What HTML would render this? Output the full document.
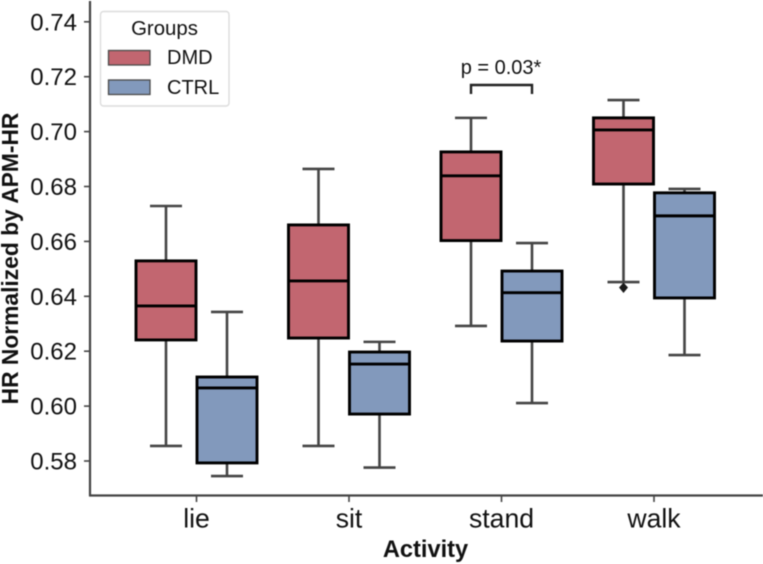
<!DOCTYPE html>
<html>
<head>
<meta charset="utf-8">
<style>
html,body{margin:0;padding:0;background:#fff;width:763px;height:564px;overflow:hidden}
svg{display:block;filter:blur(0.4px)}
text{font-family:"Liberation Sans",sans-serif;fill:#111}
</style>
</head>
<body>
<svg id="chart" xmlns="http://www.w3.org/2000/svg" width="763" height="564" viewBox="0 0 763 564">
  <g id="marks"></g>
  <g id="axes"></g>
  <text transform="translate(18 258.5) rotate(-90)" text-anchor="middle" font-size="22.8" font-weight="bold">HR Normalized by APM-HR</text>
  <text x="425.5" y="557" text-anchor="middle" font-size="23.6" font-weight="bold">Activity</text>
  <g>
    <path d="M471 94V85H532V94" fill="none" stroke="#222" stroke-width="2.4"/>
    <text x="501" y="74" text-anchor="middle" font-size="20">p = 0.03*</text>
  </g>
  <g>
    <rect x="100.5" y="11.5" width="128.5" height="94.5" rx="3" fill="#fff" stroke="#dcdcdc" stroke-width="1.4"/>
    <text x="164.5" y="35" text-anchor="middle" font-size="20.4">Groups</text>
    <rect x="108.5" y="50.5" width="41.5" height="14.5" fill="#c26670" stroke="#4a4a4a" stroke-width="1.3"/>
    <text x="167" y="64" font-size="20">DMD</text>
    <rect x="108.5" y="80" width="41.5" height="14.5" fill="#8299bc" stroke="#4a4a4a" stroke-width="1.3"/>
    <text x="167" y="94" font-size="20">CTRL</text>
  </g>
</svg>
<script>
const categories = ['lie', 'sit', 'stand', 'walk'];
const yTickLabels = ['0.58', '0.60', '0.62', '0.64', '0.66', '0.68', '0.70', '0.72', '0.74'];
const dmdLow = [0.5855, 0.5855, 0.6292, 0.6452];
const dmdQ1 = [0.6241, 0.6248, 0.6603, 0.6809];
const dmdMedian = [0.6365, 0.6456, 0.6839, 0.7006];
const dmdQ3 = [0.6529, 0.6660, 0.6926, 0.7050];
const dmdHigh = [0.6729, 0.6864, 0.7050, 0.7115];
const dmdFliers = [[], [], [], [0.6432]];
const ctrlLow = [0.5745, 0.5776, 0.6011, 0.6186];
const ctrlQ1 = [0.5793, 0.5971, 0.6237, 0.6394];
const ctrlMedian = [0.6066, 0.6153, 0.6413, 0.6693];
const ctrlQ3 = [0.6106, 0.6197, 0.6492, 0.6777];
const ctrlHigh = [0.6343, 0.6234, 0.6594, 0.6791];
const ctrlFliers = [[], [], [], []];

const NS = 'http://www.w3.org/2000/svg';
const yScale = v => 461 - (v - 0.58) * 2745;
const xScale = i => 196.5 + i * 152.5;
const marks = document.getElementById('marks');
const axes = document.getElementById('axes');

function make(parent, tag, attrs) {
  const el = document.createElementNS(NS, tag);
  for (const k in attrs) el.setAttribute(k, attrs[k]);
  parent.appendChild(el);
  return el;
}

function drawBox(i, offset, fill, low, q1, med, q3, high, fliers, prefix) {
  const g = make(marks, 'g', {});
  
  
  const cx = xScale(i) + offset;
  const half = 30;
  const capHalf = 16;
  const grey = '#444';
  make(g, 'line', {x1: cx, x2: cx, y1: yScale(high), y2: yScale(q3), stroke: grey, 'stroke-width': 2.6});
  make(g, 'line', {x1: cx, x2: cx, y1: yScale(q1), y2: yScale(low), stroke: grey, 'stroke-width': 2.6});
  make(g, 'line', {x1: cx - capHalf, x2: cx + capHalf, y1: yScale(high), y2: yScale(high), stroke: grey, 'stroke-width': 2.6});
  make(g, 'line', {x1: cx - capHalf, x2: cx + capHalf, y1: yScale(low), y2: yScale(low), stroke: grey, 'stroke-width': 2.6});
  make(g, 'rect', {x: cx - half, y: yScale(q3), width: half * 2, height: yScale(q1) - yScale(q3), fill: fill, stroke: '#000', 'stroke-width': 2.9});
  make(g, 'line', {x1: cx - half, x2: cx + half, y1: yScale(med), y2: yScale(med), stroke: '#000', 'stroke-width': 2.9});
  fliers.forEach(f => {
    const y = yScale(f);
    const pts = (cx - 4.5) + ',' + y + ' ' + cx + ',' + (y - 5) + ' ' + (cx + 4.5) + ',' + y + ' ' + cx + ',' + (y + 5.5);
    make(g, 'polygon', {points: pts, fill: '#1a1a1a'});
  });
}

categories.forEach((c, i) => {
  drawBox(i, -30.5, '#c26670', dmdLow[i], dmdQ1[i], dmdMedian[i], dmdQ3[i], dmdHigh[i], dmdFliers[i], 'dmd');
  drawBox(i, 30.5, '#8299bc', ctrlLow[i], ctrlQ1[i], ctrlMedian[i], ctrlQ3[i], ctrlHigh[i], ctrlFliers[i], 'ctrl');
});

const ySpine = make(axes, 'line', {x1: 90, x2: 90, y1: 1, y2: 496, stroke: '#444', 'stroke-width': 2.2});


const xSpine = make(axes, 'line', {x1: 89, x2: 763, y1: 495.5, y2: 495.5, stroke: '#444', 'stroke-width': 2.2});



yTickLabels.forEach(t => {
  const y = yScale(parseFloat(t));
  const tick = make(axes, 'line', {x1: 84, x2: 90, y1: y, y2: y, stroke: '#444', 'stroke-width': 1.6});
  
  
  const label = make(axes, 'text', {x: 77, y: y + 8.5, 'text-anchor': 'end', 'font-size': 24});
  
  
  label.textContent = t;
});

categories.forEach((c, i) => {
  const x = xScale(i);
  const tick = make(axes, 'line', {x1: x, x2: x, y1: 495.5, y2: 502, stroke: '#444', 'stroke-width': 1.6});
  
  
  const label = make(axes, 'text', {x: x, y: 527.5, 'text-anchor': 'middle', 'font-size': 26.6});
  
  
  label.textContent = c;
});
</script>
</body>
</html>
